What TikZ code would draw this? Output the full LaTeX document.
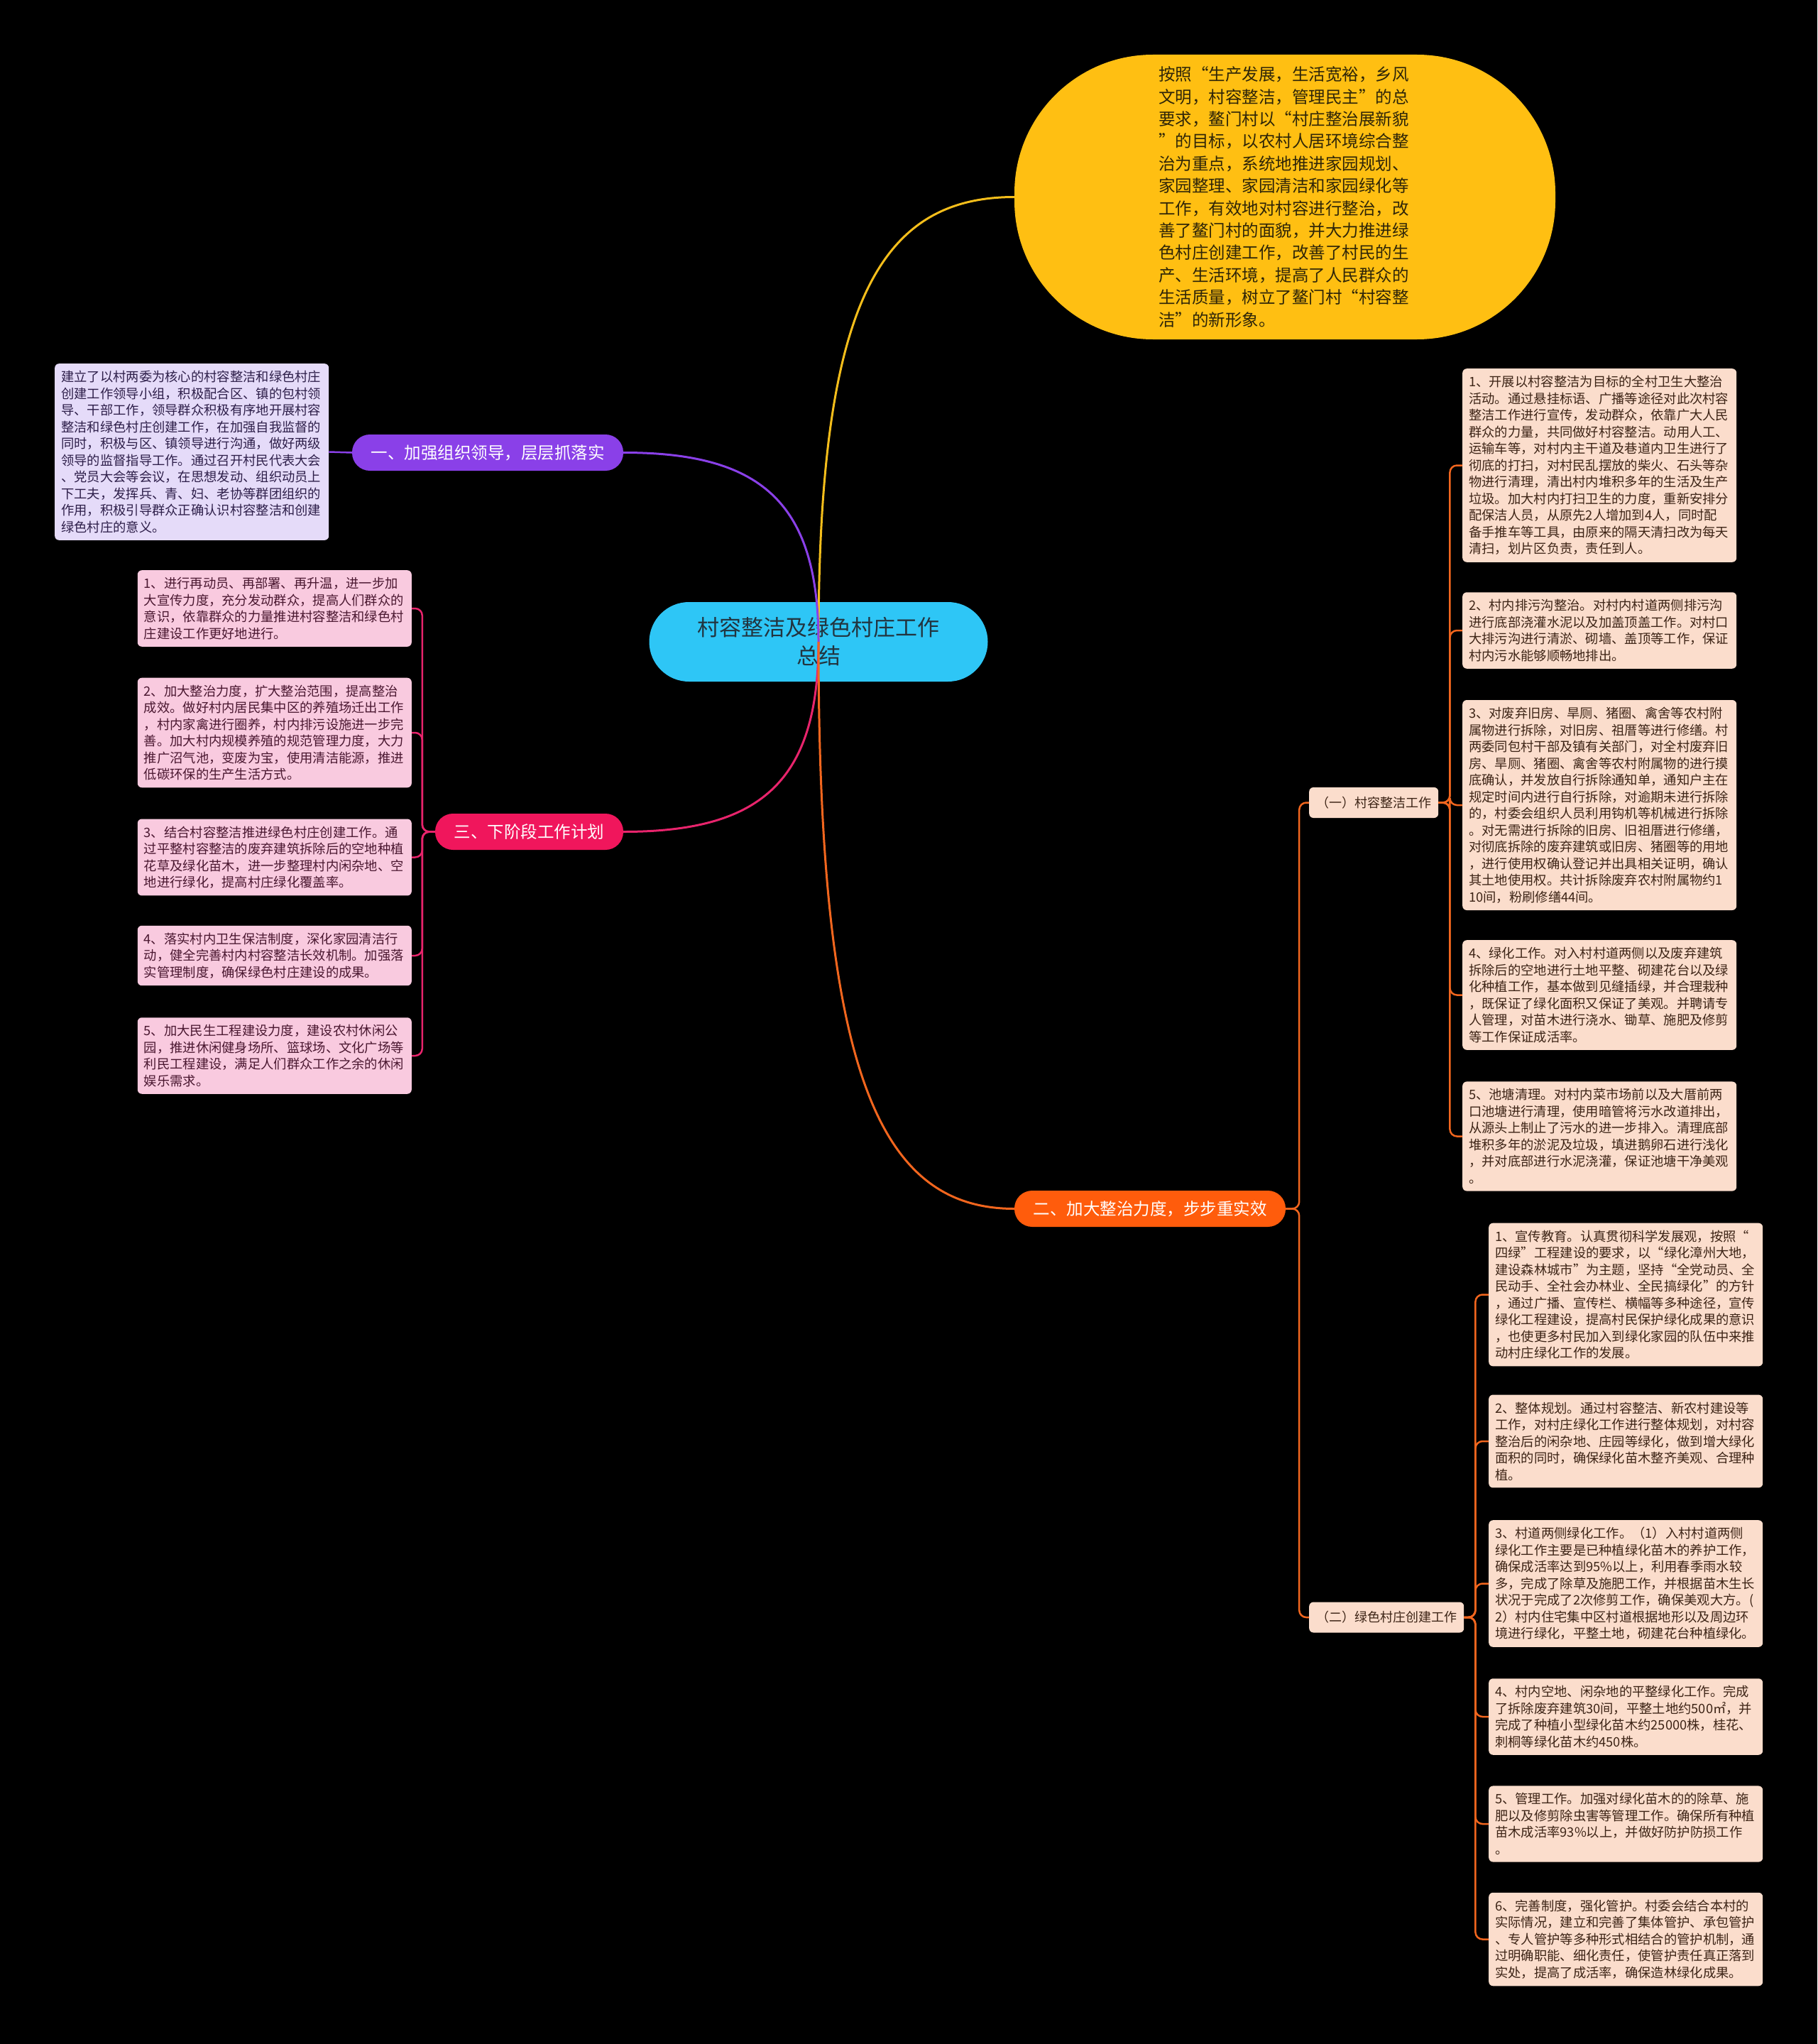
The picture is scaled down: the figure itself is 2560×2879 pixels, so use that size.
\documentclass[tikz,border=0pt]{standalone}
\usepackage{fontspec}
\setmainfont{Noto Sans CJK SC}

\definecolor{rootblue}{HTML}{2EC6F6}
\definecolor{roottext}{HTML}{22343F}
\definecolor{introyellow}{HTML}{FFBF12}
\definecolor{introtext}{HTML}{2E2508}
\definecolor{orgpurple}{HTML}{8A40E8}
\definecolor{orgfill}{HTML}{E5DBF9}
\definecolor{orgtext}{HTML}{2E1F4A}
\definecolor{planpink}{HTML}{F0165C}
\definecolor{planline}{HTML}{E8246C}
\definecolor{planfill}{HTML}{F9CADF}
\definecolor{plantext}{HTML}{4A1730}
\definecolor{fixorange}{HTML}{FF5C0C}
\definecolor{fixline}{HTML}{F2661E}
\definecolor{fixfill}{HTML}{FBDDCC}
\definecolor{fixtext}{HTML}{3D2416}
\definecolor{introline}{HTML}{F5BE1B}

\begin{document}
\begin{tikzpicture}[x=1pt, y=-1pt]
  \tikzstyle{root}=[rounded corners=56pt, minimum width=477pt, minimum height=112pt,
                    fill=rootblue, text=roottext, align=center, font=\fontsize{31}{40}\selectfont]
  \tikzstyle{branch}=[rounded corners=25pt, minimum height=51pt, text=white,
                      font=\fontsize{23.5}{28}\selectfont]
  \tikzstyle{sub}=[anchor=west, rounded corners=6pt, minimum height=43pt, inner xsep=10pt,
                   fill=fixfill, text=fixtext, font=\fontsize{18}{22}\selectfont]
  \tikzstyle{leaf}=[rounded corners=6pt, text width=368pt, align=left, inner xsep=9pt,
                    inner ysep=10pt, font=\fontsize{18.3}{23.5}\selectfont]
  \tikzstyle{curve}=[line width=3pt]
  \tikzstyle{bus}=[line width=2.5pt, rounded corners=10pt]

  \useasboundingbox (0,0) rectangle (2560,2879);
  \fill[black] (0,0) rectangle (2560,2879);

  % 中心主题
  \node[root] (root) at (1153,904) {村容整洁及绿色村庄工作\\总结};

  % 一级分支
  \node[rounded corners=195pt, minimum width=762pt, minimum height=401pt, fill=introyellow,
        text=introtext, text width=356pt, align=left, font=\fontsize{23.5}{31.4}\selectfont]
    (intro) at (1810,277.5) {按照“生产发展，生活宽裕，乡风\\文明，村容整洁，管理民主”的总\\要求，鳌门村以“村庄整治展新貌\\”的目标，以农村人居环境综合整\\治为重点，系统地推进家园规划、\\家园整理、家园清洁和家园绿化等\\工作，有效地对村容进行整治，改\\善了鳌门村的面貌，并大力推进绿\\色村庄创建工作，改善了村民的生\\产、生活环境，提高了人民群众的\\生活质量，树立了鳌门村“村容整\\洁”的新形象。};
  \node[branch, fill=orgpurple, minimum width=382pt] (org) at (687,637.5) {一、加强组织领导，层层抓落实};
  \node[branch, fill=planpink, minimum width=265pt] (plan) at (745.5,1171.5) {三、下阶段工作计划};
  \node[branch, fill=fixorange, minimum width=382pt] (fix) at (1620,1702.5) {二、加大整治力度，步步重实效};

  % 二级分支
  \node[sub] (clean) at (1844,1130.5) {（一）村容整洁工作};
  \node[sub] (green) at (1844,2278) {（二）绿色村庄创建工作};

  % 一、加强组织领导
  \node[leaf, anchor=west, fill=orgfill, text=orgtext] (orgtxt) at (77,636.5) {建立了以村两委为核心的村容整洁和绿色村庄\\创建工作领导小组，积极配合区、镇的包村领\\导、干部工作，领导群众积极有序地开展村容\\整洁和绿色村庄创建工作，在加强自我监督的\\同时，积极与区、镇领导进行沟通，做好两级\\领导的监督指导工作。通过召开村民代表大会\\、党员大会等会议，在思想发动、组织动员上\\下工夫，发挥兵、青、妇、老协等群团组织的\\作用，积极引导群众正确认识村容整洁和创建\\绿色村庄的意义。};

  % 三、下阶段工作计划
  \tikzstyle{planleaf}=[leaf, anchor=east, fill=planfill, text=plantext]
  \node[planleaf] (p1) at (580,857) {1、进行再动员、再部署、再升温，进一步加\\大宣传力度，充分发动群众，提高人们群众的\\意识，依靠群众的力量推进村容整洁和绿色村\\庄建设工作更好地进行。};
  \node[planleaf] (p2) at (580,1032) {2、加大整治力度，扩大整治范围，提高整治\\成效。做好村内居民集中区的养殖场迁出工作\\，村内家禽进行圈养，村内排污设施进一步完\\善。加大村内规模养殖的规范管理力度，大力\\推广沼气池，变废为宝，使用清洁能源，推进\\低碳环保的生产生活方式。};
  \node[planleaf] (p3) at (580,1207.5) {3、结合村容整洁推进绿色村庄创建工作。通\\过平整村容整洁的废弃建筑拆除后的空地种植\\花草及绿化苗木，进一步整理村内闲杂地、空\\地进行绿化，提高村庄绿化覆盖率。};
  \node[planleaf] (p4) at (580,1346) {4、落实村内卫生保洁制度，深化家园清洁行\\动，健全完善村内村容整洁长效机制。加强落\\实管理制度，确保绿色村庄建设的成果。};
  \node[planleaf] (p5) at (580,1487) {5、加大民生工程建设力度，建设农村休闲公\\园，推进休闲健身场所、篮球场、文化广场等\\利民工程建设，满足人们群众工作之余的休闲\\娱乐需求。};

  % （一）村容整洁工作
  \tikzstyle{fixleaf}=[leaf, anchor=west, fill=fixfill, text=fixtext]
  \node[fixleaf] (r1) at (2060,655.5) {1、开展以村容整洁为目标的全村卫生大整治\\活动。通过悬挂标语、广播等途径对此次村容\\整洁工作进行宣传，发动群众，依靠广大人民\\群众的力量，共同做好村容整洁。动用人工、\\运输车等，对村内主干道及巷道内卫生进行了\\彻底的打扫，对村民乱摆放的柴火、石头等杂\\物进行清理，清出村内堆积多年的生活及生产\\垃圾。加大村内打扫卫生的力度，重新安排分\\配保洁人员，从原先2人增加到4人，同时配\\备手推车等工具，由原来的隔天清扫改为每天\\清扫，划片区负责，责任到人。};
  \node[fixleaf] (r2) at (2060,888) {2、村内排污沟整治。对村内村道两侧排污沟\\进行底部浇灌水泥以及加盖顶盖工作。对村口\\大排污沟进行清淤、砌墙、盖顶等工作，保证\\村内污水能够顺畅地排出。};
  \node[fixleaf] (r3) at (2060,1134) {3、对废弃旧房、旱厕、猪圈、禽舍等农村附\\属物进行拆除，对旧房、祖厝等进行修缮。村\\两委同包村干部及镇有关部门，对全村废弃旧\\房、旱厕、猪圈、禽舍等农村附属物的进行摸\\底确认，并发放自行拆除通知单，通知户主在\\规定时间内进行自行拆除，对逾期未进行拆除\\的，村委会组织人员利用钩机等机械进行拆除\\。对无需进行拆除的旧房、旧祖厝进行修缮，\\对彻底拆除的废弃建筑或旧房、猪圈等的用地\\，进行使用权确认登记并出具相关证明，确认\\其土地使用权。共计拆除废弃农村附属物约1\\10间，粉刷修缮44间。};
  \node[fixleaf] (r4) at (2060,1401.5) {4、绿化工作。对入村村道两侧以及废弃建筑\\拆除后的空地进行土地平整、砌建花台以及绿\\化种植工作，基本做到见缝插绿，并合理栽种\\，既保证了绿化面积又保证了美观。并聘请专\\人管理，对苗木进行浇水、锄草、施肥及修剪\\等工作保证成活率。};
  \node[fixleaf] (r5) at (2060,1600.5) {5、池塘清理。对村内菜市场前以及大厝前两\\口池塘进行清理，使用暗管将污水改道排出，\\从源头上制止了污水的进一步排入。清理底部\\堆积多年的淤泥及垃圾，填进鹅卵石进行浅化\\，并对底部进行水泥浇灌，保证池塘干净美观\\。};

  % （二）绿色村庄创建工作
  \node[fixleaf] (g1) at (2097,1823.5) {1、宣传教育。认真贯彻科学发展观，按照“\\四绿”工程建设的要求，以“绿化漳州大地，\\建设森林城市”为主题，坚持“全党动员、全\\民动手、全社会办林业、全民搞绿化”的方针\\，通过广播、宣传栏、横幅等多种途径，宣传\\绿化工程建设，提高村民保护绿化成果的意识\\，也使更多村民加入到绿化家园的队伍中来推\\动村庄绿化工作的发展。};
  \node[fixleaf] (g2) at (2097,2030) {2、整体规划。通过村容整洁、新农村建设等\\工作，对村庄绿化工作进行整体规划，对村容\\整治后的闲杂地、庄园等绿化，做到增大绿化\\面积的同时，确保绿化苗木整齐美观、合理种\\植。};
  \node[fixleaf] (g3) at (2097,2230.5) {3、村道两侧绿化工作。（1）入村村道两侧\\绿化工作主要是已种植绿化苗木的养护工作，\\确保成活率达到95\%以上，利用春季雨水较\\多，完成了除草及施肥工作，并根据苗木生长\\状况于完成了2次修剪工作，确保美观大方。(\\2）村内住宅集中区村道根据地形以及周边环\\境进行绿化，平整土地，砌建花台种植绿化。};
  \node[fixleaf] (g4) at (2097,2418) {4、村内空地、闲杂地的平整绿化工作。完成\\了拆除废弃建筑30间，平整土地约500㎡，并\\完成了种植小型绿化苗木约25000株，桂花、\\刺桐等绿化苗木约450株。};
  \node[fixleaf] (g5) at (2097,2569) {5、管理工作。加强对绿化苗木的的除草、施\\肥以及修剪除虫害等管理工作。确保所有种植\\苗木成活率93\%以上，并做好防护防损工作\\。};
  \node[fixleaf] (g6) at (2097,2731.5) {6、完善制度，强化管护。村委会结合本村的\\实际情况，建立和完善了集体管护、承包管护\\、专人管护等多种形式相结合的管护机制，通\\过明确职能、细化责任，使管护责任真正落到\\实处，提高了成活率，确保造林绿化成果。};

  % 主干连线
  \draw[curve, draw=introline] (root.center) .. controls +(0,-470) and +(-193,0) .. (intro.west);
  \draw[curve, draw=orgpurple] (root.center) .. controls +(0,-200) and +(190,0) .. (org.east);
  \draw[curve, draw=planline] (root.center) .. controls +(0,200) and +(190,0) .. (plan.east);
  \draw[curve, draw=fixline] (root.center) .. controls +(0,600) and +(-193,0) .. (fix.west);

  % 分支连线
  \draw[bus, draw=orgpurple] (org.west) -- (orgtxt.east);
  \foreach \n in {p1,p2,p3,p4,p5}
    \draw[bus, draw=planline] (plan.west) -- ++(-18,0) |- (\n.east);
  \foreach \n in {clean,green}
    \draw[bus, draw=fixline] (fix.east) -- ++(19,0) |- (\n.west);
  \foreach \n in {r1,r2,r3,r4,r5}
    \draw[bus, draw=fixline] (clean.east) -- ++(16,0) |- (\n.west);
  \foreach \n in {g1,g2,g3,g4,g5,g6}
    \draw[bus, draw=fixline] (green.east) -- ++(16,0) |- (\n.west);
\end{tikzpicture}
\end{document}
